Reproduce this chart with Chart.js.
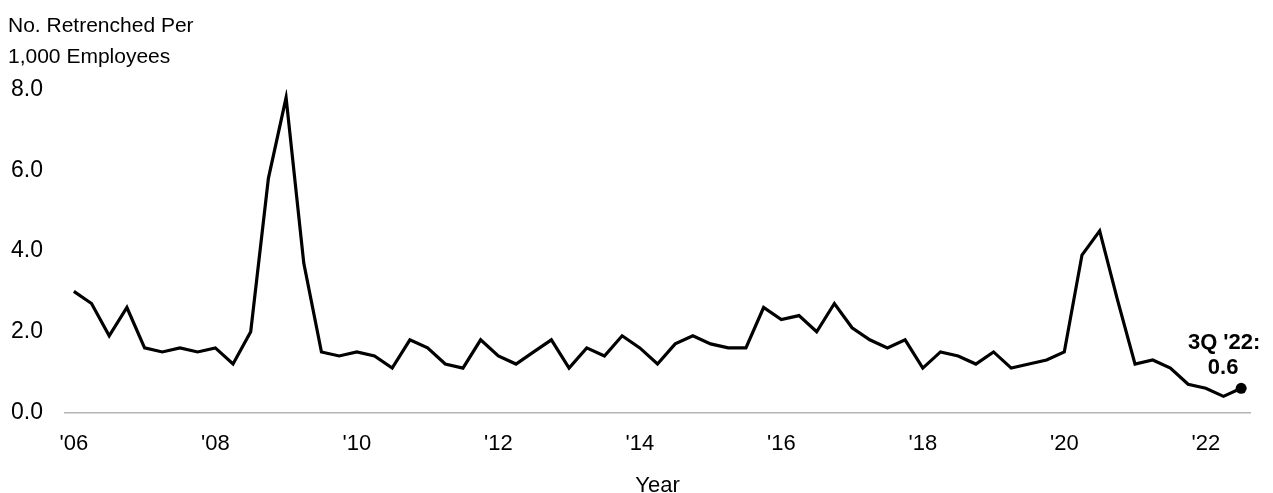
<!DOCTYPE html>
<html>
<head>
<meta charset="utf-8">
<script src="https://cdn.jsdelivr.net/npm/chart.js@4.4.1/dist/chart.umd.min.js"></script>
<style>
  html, body { margin: 0; padding: 0; background: #fff; }
  #wrap { width: 1273px; height: 493px; }
</style>
</head>
<body>
<div id="wrap"><canvas id="retrenchChart"></canvas></div>
<script>
const years = ['06', '07', '08', '09', '10', '11', '12', '13', '14', '15', '16', '17', '18', '19', '20', '21', '22'];
const lastQuarter = "3Q '22";

// quarterly retrenchment rate, 1Q '06 .. 3Q '22
const retrenched = [
  3.0, 2.7, 1.9, 2.6,
  1.6, 1.5, 1.6, 1.5,
  1.6, 1.2, 2.0, 5.8,
  7.8, 3.7, 1.5, 1.4,
  1.5, 1.4, 1.1, 1.8,
  1.6, 1.2, 1.1, 1.8,
  1.4, 1.2, 1.5, 1.8,
  1.1, 1.6, 1.4, 1.9,
  1.6, 1.2, 1.7, 1.9,
  1.7, 1.6, 1.6, 2.6,
  2.3, 2.4, 2.0, 2.7,
  2.1, 1.8, 1.6, 1.8,
  1.1, 1.5, 1.4, 1.2,
  1.5, 1.1, 1.2, 1.3,
  1.5, 3.9, 4.5, 2.8,
  1.2, 1.3, 1.1, 0.7,
  0.6, 0.4, 0.6
];

const tickLabels = ["'06", "'08", "'10", "'12", "'14", "'16", "'18", "'20", "'22"];
const yTicks = [0, 2, 4, 6, 8];

const quarters = [];
years.forEach(yy => {
  for (let q = 1; q <= 4; q++) {
    if (quarters[quarters.length - 1] === lastQuarter) return;
    quarters.push(q + "Q '" + yy);
  }
});

const FONT = "'Liberation Sans', Arial, sans-serif";
Chart.defaults.font.family = FONT;
Chart.defaults.color = '#000';

// bold label above the last point
const lastLabel = {
  id: 'lastLabel',
  afterDatasetsDraw(chart) {
    const pts = chart.getDatasetMeta(0).data;
    const p = pts[pts.length - 1];
    const ctx = chart.ctx;
    ctx.save();
    ctx.font = 'bold 22px ' + FONT;
    ctx.fillStyle = '#000';
    ctx.textAlign = 'center';
    ctx.textBaseline = 'middle';
    ctx.fillText(lastQuarter + ':', p.x - 17, p.y - 45);
    ctx.fillText(retrenched[retrenched.length - 1].toFixed(1), p.x - 18, p.y - 20);
    ctx.restore();
  }
};

new Chart(document.getElementById('retrenchChart').getContext('2d'), {
  type: 'line',
  data: {
    labels: quarters,
    datasets: [{
      data: retrenched,
      borderColor: '#000',
      borderWidth: 3.2,
      tension: 0,
      pointRadius: retrenched.map((v, i) => i === retrenched.length - 1 ? 5.5 : 0),
      pointBackgroundColor: '#000',
      pointBorderWidth: 0
    }]
  },
  options: {
    responsive: true,
    maintainAspectRatio: false,
    animation: false,
    layout: { padding: { left: 8, right: 23, top: 0, bottom: 0 } },
    plugins: {
      legend: { display: false },
      tooltip: { enabled: false },
      title: {
        display: true,
        text: ['No. Retrenched Per', '1,000 Employees'],
        align: 'start',
        font: { size: 21, weight: 'normal', lineHeight: 1.5 },
        color: '#000',
        padding: { top: 10, bottom: 16.5 }
      }
    },
    scales: {
      x: {
        offset: true,
        grid: { display: false, drawTicks: false },
        border: { display: true, color: '#b4b4b4', width: 1.5 },
        afterFit: s => { s.height = 80.5; },
        ticks: {
          autoSkip: false,
          maxRotation: 0,
          padding: 18,
          font: { size: 22 },
          callback: (v, i) => i % 8 === 0 ? tickLabels[i / 8] : ''
        },
        title: {
          display: true,
          text: 'Year',
          font: { size: 22, lineHeight: 0.6 },
          padding: { top: 0, bottom: 0 }
        }
      },
      y: {
        min: 0,
        max: 8,
        grid: { display: false, drawTicks: false },
        border: { display: false },
        afterFit: s => { s.width = 57; },
        afterBuildTicks: s => { s.ticks = yTicks.map(v => ({ value: v })); },
        ticks: {
          padding: 22,
          font: { size: 23 },
          callback: v => v.toFixed(1)
        }
      }
    }
  },
  plugins: [lastLabel]
});
</script>
</body>
</html>
